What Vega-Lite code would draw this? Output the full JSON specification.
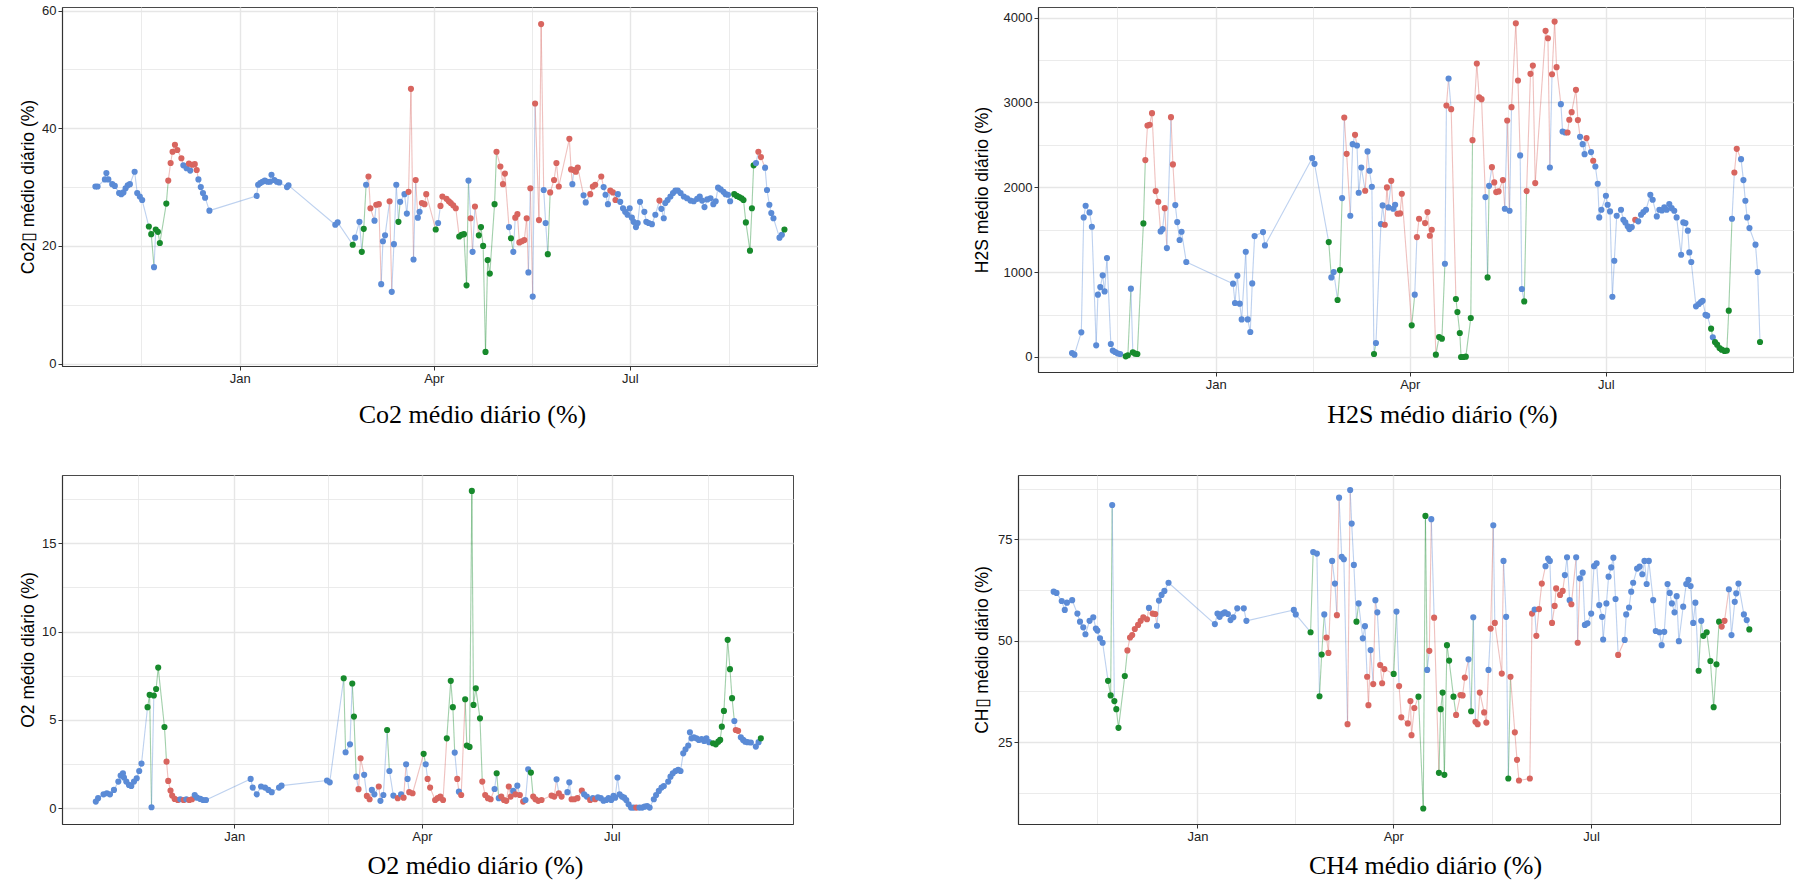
{
"$schema":"https://vega.github.io/schema/vega-lite/v6.json",
"background":"white",
"padding":{"left":18,"top":4,"right":2,"bottom":2},
"bounds":"full",
"spacing":46,
"config":{"view":{"stroke":"#4a4a4a","strokeWidth":1},"axis":{"labelFont":"Liberation Sans","labelFontSize":13,"labelColor":"#222","tickColor":"#333","tickSize":4,"domainColor":"#333","domainWidth":1.2,"gridColor":"#E6E6E6"}},
"datasets":{
"co2":[{"day":-67,"v":30.1,"g":"a"},{"day":-66,"v":30.1,"g":"a"},{"day":-62.6,"v":31.3,"g":"a"},{"day":-61.9,"v":32.4,"g":"a"},{"day":-61,"v":31.3,"g":"a"},{"day":-59.2,"v":30.5,"g":"a"},{"day":-58,"v":30.2,"g":"a"},{"day":-56,"v":29,"g":"a"},{"day":-55,"v":28.8,"g":"a"},{"day":-54,"v":29.1,"g":"a"},{"day":-53,"v":29.8,"g":"a"},{"day":-52,"v":30.3,"g":"a"},{"day":-51,"v":30.5,"g":"a"},{"day":-48.8,"v":32.6,"g":"a"},{"day":-47.6,"v":29,"g":"a"},{"day":-46.4,"v":28.4,"g":"a"},{"day":-45.3,"v":27.8,"g":"a"},{"day":-42.2,"v":23.3,"g":"c"},{"day":-41.1,"v":22,"g":"c"},{"day":-39.8,"v":16.4,"g":"a"},{"day":-39,"v":22.8,"g":"c"},{"day":-38,"v":22.4,"g":"c"},{"day":-37.1,"v":20.5,"g":"c"},{"day":-34.1,"v":27.2,"g":"c"},{"day":-33.2,"v":31.1,"g":"b"},{"day":-32.1,"v":34.1,"g":"b"},{"day":-31.2,"v":36,"g":"b"},{"day":-30.1,"v":37.2,"g":"b"},{"day":-29,"v":36.3,"g":"b"},{"day":-27.1,"v":34.9,"g":"b"},{"day":-26.2,"v":33.7,"g":"a"},{"day":-24.7,"v":33.2,"g":"a"},{"day":-23.6,"v":34,"g":"b"},{"day":-23,"v":32.8,"g":"a"},{"day":-22,"v":33.8,"g":"b"},{"day":-20.9,"v":33.9,"g":"b"},{"day":-20,"v":32.9,"g":"b"},{"day":-19.2,"v":31.3,"g":"a"},{"day":-18.1,"v":30,"g":"a"},{"day":-17.1,"v":29,"g":"a"},{"day":-16.1,"v":28.2,"g":"a"},{"day":-14.1,"v":26,"g":"a"},{"day":7.8,"v":28.5,"g":"a"},{"day":8.5,"v":30.4,"g":"a"},{"day":9.5,"v":30.7,"g":"a"},{"day":10.5,"v":30.9,"g":"a"},{"day":11.6,"v":31.1,"g":"a"},{"day":12.9,"v":30.9,"g":"a"},{"day":14,"v":30.9,"g":"a"},{"day":14.7,"v":32.1,"g":"a"},{"day":16,"v":31.2,"g":"a"},{"day":17.2,"v":30.9,"g":"a"},{"day":18.3,"v":30.8,"g":"a"},{"day":21.9,"v":30,"g":"a"},{"day":22.6,"v":30.3,"g":"a"},{"day":44.3,"v":23.6,"g":"a"},{"day":45.4,"v":24,"g":"a"},{"day":52.4,"v":20.2,"g":"c"},{"day":53.5,"v":21.4,"g":"a"},{"day":55.5,"v":24.1,"g":"a"},{"day":56.6,"v":19,"g":"c"},{"day":57.5,"v":22.9,"g":"c"},{"day":58.6,"v":30.4,"g":"a"},{"day":59.7,"v":31.8,"g":"b"},{"day":60.6,"v":26.4,"g":"b"},{"day":62.5,"v":24.3,"g":"a"},{"day":63.3,"v":27,"g":"b"},{"day":64.5,"v":27.1,"g":"b"},{"day":65.6,"v":13.5,"g":"a"},{"day":66.4,"v":20.8,"g":"a"},{"day":67.4,"v":21.8,"g":"a"},{"day":69.5,"v":27.6,"g":"b"},{"day":70.5,"v":12.2,"g":"a"},{"day":71.5,"v":20.3,"g":"a"},{"day":72.6,"v":30.4,"g":"a"},{"day":73.6,"v":24.1,"g":"c"},{"day":74.4,"v":27.5,"g":"a"},{"day":76.4,"v":28.8,"g":"a"},{"day":77.5,"v":25.5,"g":"a"},{"day":78.3,"v":29.2,"g":"b"},{"day":79.4,"v":46.7,"g":"b"},{"day":80.6,"v":17.7,"g":"a"},{"day":81.6,"v":31.2,"g":"b"},{"day":82.6,"v":24.8,"g":"a"},{"day":83.4,"v":25.8,"g":"a"},{"day":84.5,"v":27.3,"g":"b"},{"day":85.7,"v":27.1,"g":"b"},{"day":86.5,"v":28.8,"g":"b"},{"day":90.9,"v":22.8,"g":"c"},{"day":92,"v":23.9,"g":"a"},{"day":93.1,"v":26.8,"g":"b"},{"day":94,"v":28.4,"g":"b"},{"day":95.9,"v":28,"g":"b"},{"day":97,"v":27.6,"g":"b"},{"day":97.9,"v":27.3,"g":"b"},{"day":99,"v":26.9,"g":"b"},{"day":100.2,"v":26.4,"g":"b"},{"day":101.8,"v":21.6,"g":"c"},{"day":102.9,"v":21.9,"g":"c"},{"day":104,"v":22,"g":"c"},{"day":105.2,"v":13.3,"g":"c"},{"day":106.1,"v":31.1,"g":"a"},{"day":107.1,"v":24.7,"g":"b"},{"day":108,"v":19,"g":"a"},{"day":109.1,"v":26.7,"g":"b"},{"day":110.9,"v":21.8,"g":"c"},{"day":111.9,"v":23.2,"g":"c"},{"day":112.9,"v":20,"g":"c"},{"day":114,"v":2,"g":"c"},{"day":115,"v":17.6,"g":"c"},{"day":116,"v":15.3,"g":"c"},{"day":118.2,"v":27.1,"g":"c"},{"day":119.1,"v":36,"g":"b"},{"day":120.9,"v":33.5,"g":"b"},{"day":122.1,"v":30.5,"g":"b"},{"day":123,"v":32.3,"g":"b"},{"day":124.9,"v":23.2,"g":"a"},{"day":125.8,"v":21.3,"g":"c"},{"day":126.9,"v":19,"g":"a"},{"day":127.8,"v":24.8,"g":"b"},{"day":128.8,"v":25.4,"g":"b"},{"day":129.7,"v":20.6,"g":"b"},{"day":130.8,"v":20.8,"g":"b"},{"day":132,"v":21,"g":"b"},{"day":133.1,"v":24.7,"g":"b"},{"day":133.9,"v":15.5,"g":"a"},{"day":134.8,"v":29.8,"g":"b"},{"day":135.9,"v":11.4,"g":"a"},{"day":137,"v":44.2,"g":"b"},{"day":138.8,"v":24.4,"g":"b"},{"day":139.8,"v":57.7,"g":"b"},{"day":141,"v":29.5,"g":"a"},{"day":141.9,"v":23.9,"g":"a"},{"day":142.9,"v":18.6,"g":"c"},{"day":144,"v":29.1,"g":"b"},{"day":145.8,"v":31.2,"g":"b"},{"day":146.9,"v":34.1,"g":"b"},{"day":148,"v":30.1,"g":"b"},{"day":152.9,"v":38.2,"g":"b"},{"day":153.7,"v":33,"g":"b"},{"day":154.3,"v":30.5,"g":"a"},{"day":155,"v":32.9,"g":"b"},{"day":155.9,"v":32.6,"g":"b"},{"day":156.8,"v":33.3,"g":"b"},{"day":159.5,"v":28.6,"g":"a"},{"day":160.5,"v":27.4,"g":"a"},{"day":162.6,"v":28.8,"g":"b"},{"day":163.8,"v":30.1,"g":"b"},{"day":164.9,"v":30.4,"g":"b"},{"day":167.7,"v":31.8,"g":"b"},{"day":168.8,"v":30,"g":"a"},{"day":169.7,"v":28.7,"g":"a"},{"day":170.8,"v":27.1,"g":"a"},{"day":171.9,"v":29.4,"g":"b"},{"day":173.1,"v":29.1,"g":"b"},{"day":174.3,"v":27.8,"g":"b"},{"day":175.4,"v":28.8,"g":"a"},{"day":176.5,"v":27.5,"g":"a"},{"day":177.8,"v":26.4,"g":"a"},{"day":178.8,"v":25.8,"g":"a"},{"day":179.9,"v":25.3,"g":"a"},{"day":180.9,"v":26.4,"g":"a"},{"day":181.9,"v":24.8,"g":"a"},{"day":182.7,"v":24.1,"g":"a"},{"day":183.8,"v":23.2,"g":"a"},{"day":184.6,"v":23.9,"g":"a"},{"day":185.7,"v":27.5,"g":"a"},{"day":187.7,"v":25.8,"g":"a"},{"day":188.6,"v":24.1,"g":"a"},{"day":189.7,"v":23.9,"g":"a"},{"day":191.2,"v":23.7,"g":"a"},{"day":192.8,"v":25.3,"g":"a"},{"day":194.7,"v":27.7,"g":"b"},{"day":195.6,"v":26.3,"g":"a"},{"day":196.7,"v":24.7,"g":"a"},{"day":197.4,"v":27.3,"g":"a"},{"day":198.5,"v":27.8,"g":"a"},{"day":199.8,"v":28.4,"g":"a"},{"day":201,"v":29,"g":"a"},{"day":202.1,"v":29.4,"g":"a"},{"day":203.2,"v":29.4,"g":"a"},{"day":204.5,"v":29,"g":"a"},{"day":206,"v":28.4,"g":"a"},{"day":207.5,"v":28.1,"g":"a"},{"day":209.1,"v":27.7,"g":"a"},{"day":210.6,"v":27.6,"g":"a"},{"day":212.2,"v":28,"g":"a"},{"day":213.4,"v":28.4,"g":"a"},{"day":214.5,"v":27.7,"g":"a"},{"day":215.6,"v":26.6,"g":"a"},{"day":216.9,"v":27.9,"g":"a"},{"day":218.4,"v":28.1,"g":"a"},{"day":219.7,"v":27.1,"g":"a"},{"day":220.8,"v":27.6,"g":"a"},{"day":221.9,"v":29.9,"g":"a"},{"day":223.1,"v":29.6,"g":"a"},{"day":224.4,"v":29.2,"g":"a"},{"day":225.4,"v":28.8,"g":"a"},{"day":226.5,"v":28.7,"g":"a"},{"day":227.5,"v":27.6,"g":"a"},{"day":229.4,"v":28.8,"g":"c"},{"day":230.6,"v":28.5,"g":"c"},{"day":231.7,"v":28.3,"g":"c"},{"day":232.8,"v":28.1,"g":"c"},{"day":233.7,"v":27.8,"g":"c"},{"day":234.8,"v":24,"g":"c"},{"day":236.7,"v":19.2,"g":"c"},{"day":237.6,"v":26.4,"g":"c"},{"day":238.4,"v":33.7,"g":"c"},{"day":239.5,"v":34.1,"g":"a"},{"day":240.6,"v":36,"g":"b"},{"day":241.8,"v":35.1,"g":"b"},{"day":243.7,"v":33.3,"g":"a"},{"day":244.6,"v":29.5,"g":"a"},{"day":245.7,"v":27,"g":"a"},{"day":246.6,"v":25.6,"g":"a"},{"day":247.6,"v":24.7,"g":"a"},{"day":250.4,"v":21.4,"g":"a"},{"day":251.5,"v":21.9,"g":"a"},{"day":252.7,"v":22.8,"g":"c"}],
"h2s":[{"day":-66.7,"v":47,"g":"a"},{"day":-65.6,"v":27,"g":"a"},{"day":-62.4,"v":290,"g":"a"},{"day":-61.3,"v":1645,"g":"a"},{"day":-60.4,"v":1782,"g":"a"},{"day":-58.6,"v":1703,"g":"a"},{"day":-57.5,"v":1535,"g":"a"},{"day":-55.5,"v":137,"g":"a"},{"day":-54.7,"v":734,"g":"a"},{"day":-53.6,"v":824,"g":"a"},{"day":-52.5,"v":962,"g":"a"},{"day":-51.6,"v":773,"g":"a"},{"day":-50.5,"v":1166,"g":"a"},{"day":-48.7,"v":153,"g":"a"},{"day":-47.8,"v":75,"g":"a"},{"day":-46.7,"v":59,"g":"a"},{"day":-45.6,"v":43,"g":"a"},{"day":-44.4,"v":35,"g":"a"},{"day":-41.8,"v":8,"g":"c"},{"day":-40.8,"v":20,"g":"c"},{"day":-39.4,"v":805,"g":"a"},{"day":-38.5,"v":55,"g":"c"},{"day":-37.4,"v":39,"g":"c"},{"day":-36.4,"v":35,"g":"c"},{"day":-33.6,"v":1574,"g":"c"},{"day":-32.7,"v":2320,"g":"b"},{"day":-31.7,"v":2728,"g":"b"},{"day":-30.7,"v":2736,"g":"b"},{"day":-29.6,"v":2873,"g":"b"},{"day":-27.9,"v":1955,"g":"b"},{"day":-26.7,"v":1829,"g":"b"},{"day":-25.6,"v":1480,"g":"a"},{"day":-24.7,"v":1507,"g":"a"},{"day":-23.7,"v":1754,"g":"b"},{"day":-22.7,"v":1283,"g":"a"},{"day":-20.8,"v":2826,"g":"b"},{"day":-19.9,"v":2269,"g":"b"},{"day":-18.8,"v":1790,"g":"a"},{"day":-17.9,"v":1590,"g":"a"},{"day":-16.8,"v":1378,"g":"a"},{"day":-15.9,"v":1476,"g":"a"},{"day":-13.7,"v":1119,"g":"a"},{"day":8,"v":864,"g":"a"},{"day":8.9,"v":636,"g":"a"},{"day":10,"v":958,"g":"a"},{"day":11.1,"v":628,"g":"a"},{"day":12,"v":443,"g":"a"},{"day":13.9,"v":1240,"g":"a"},{"day":14.8,"v":443,"g":"a"},{"day":16,"v":294,"g":"a"},{"day":16.9,"v":867,"g":"a"},{"day":18,"v":1425,"g":"a"},{"day":21.9,"v":1472,"g":"a"},{"day":22.8,"v":1315,"g":"a"},{"day":44.7,"v":2343,"g":"a"},{"day":45.8,"v":2276,"g":"a"},{"day":52.4,"v":1354,"g":"c"},{"day":53.6,"v":938,"g":"a"},{"day":54.7,"v":1001,"g":"a"},{"day":56.5,"v":671,"g":"c"},{"day":57.6,"v":1024,"g":"c"},{"day":58.6,"v":1872,"g":"a"},{"day":59.6,"v":2822,"g":"b"},{"day":60.7,"v":2394,"g":"b"},{"day":62.4,"v":1664,"g":"a"},{"day":63.5,"v":2508,"g":"a"},{"day":64.6,"v":2618,"g":"b"},{"day":65.5,"v":2492,"g":"a"},{"day":66.3,"v":1935,"g":"a"},{"day":67.5,"v":2233,"g":"a"},{"day":69.3,"v":1959,"g":"b"},{"day":70.4,"v":2422,"g":"a"},{"day":71.3,"v":2194,"g":"a"},{"day":72.4,"v":2006,"g":"a"},{"day":73.4,"v":35,"g":"c"},{"day":74.3,"v":165,"g":"a"},{"day":76.6,"v":1566,"g":"a"},{"day":77.4,"v":1786,"g":"a"},{"day":78.4,"v":1558,"g":"b"},{"day":79.4,"v":1998,"g":"b"},{"day":80.1,"v":1762,"g":"a"},{"day":81.4,"v":2076,"g":"b"},{"day":82.3,"v":1747,"g":"a"},{"day":83.2,"v":1794,"g":"a"},{"day":84.3,"v":1688,"g":"b"},{"day":85.5,"v":1692,"g":"b"},{"day":86.3,"v":1923,"g":"b"},{"day":90.9,"v":373,"g":"c"},{"day":92.3,"v":734,"g":"a"},{"day":93.3,"v":1413,"g":"b"},{"day":94.3,"v":1629,"g":"b"},{"day":97.1,"v":1578,"g":"b"},{"day":98.2,"v":1707,"g":"b"},{"day":99.3,"v":1429,"g":"b"},{"day":100.2,"v":1499,"g":"b"},{"day":102.1,"v":27,"g":"c"},{"day":103.6,"v":235,"g":"c"},{"day":104.9,"v":216,"g":"c"},{"day":106.3,"v":1099,"g":"a"},{"day":107,"v":2963,"g":"b"},{"day":108,"v":3281,"g":"a"},{"day":109.2,"v":2920,"g":"b"},{"day":111.4,"v":683,"g":"c"},{"day":112.1,"v":530,"g":"c"},{"day":113.2,"v":283,"g":"c"},{"day":113.8,"v":0,"g":"c"},{"day":114.8,"v":0,"g":"c"},{"day":116,"v":4,"g":"c"},{"day":118.3,"v":459,"g":"c"},{"day":119.1,"v":2555,"g":"b"},{"day":121.1,"v":3458,"g":"b"},{"day":122.2,"v":3061,"g":"b"},{"day":123.3,"v":3038,"g":"b"},{"day":125.1,"v":1884,"g":"a"},{"day":126.1,"v":938,"g":"c"},{"day":126.8,"v":2017,"g":"a"},{"day":128.1,"v":2237,"g":"b"},{"day":129.2,"v":2057,"g":"b"},{"day":130.1,"v":1943,"g":"b"},{"day":131.2,"v":1951,"g":"b"},{"day":133.2,"v":2084,"g":"b"},{"day":134.1,"v":1747,"g":"a"},{"day":135.2,"v":2787,"g":"b"},{"day":136.3,"v":1723,"g":"a"},{"day":137.2,"v":2944,"g":"b"},{"day":139.2,"v":3933,"g":"b"},{"day":140.2,"v":3258,"g":"b"},{"day":141.2,"v":2375,"g":"a"},{"day":142,"v":801,"g":"a"},{"day":143.1,"v":655,"g":"c"},{"day":144.2,"v":1955,"g":"b"},{"day":146,"v":3336,"g":"b"},{"day":147.1,"v":3434,"g":"b"},{"day":148.2,"v":2049,"g":"b"},{"day":153,"v":3843,"g":"b"},{"day":154.1,"v":3756,"g":"b"},{"day":155,"v":2233,"g":"a"},{"day":156,"v":3332,"g":"b"},{"day":157.2,"v":3952,"g":"b"},{"day":158.1,"v":3415,"g":"b"},{"day":160.1,"v":2979,"g":"a"},{"day":160.9,"v":2657,"g":"a"},{"day":162.1,"v":2645,"g":"a"},{"day":163.2,"v":2645,"g":"b"},{"day":164,"v":2795,"g":"b"},{"day":165.1,"v":2885,"g":"b"},{"day":167.1,"v":3148,"g":"b"},{"day":168,"v":2791,"g":"b"},{"day":169,"v":2594,"g":"a"},{"day":170.2,"v":2508,"g":"a"},{"day":171.1,"v":2390,"g":"a"},{"day":172,"v":2579,"g":"b"},{"day":174.1,"v":2414,"g":"a"},{"day":175.1,"v":2312,"g":"b"},{"day":176.1,"v":2245,"g":"a"},{"day":177.2,"v":2041,"g":"a"},{"day":177.9,"v":1645,"g":"a"},{"day":178.9,"v":1735,"g":"a"},{"day":181,"v":1900,"g":"a"},{"day":181.8,"v":1794,"g":"a"},{"day":182.9,"v":1715,"g":"a"},{"day":184,"v":710,"g":"a"},{"day":184.9,"v":1134,"g":"a"},{"day":186,"v":1664,"g":"a"},{"day":188,"v":1735,"g":"a"},{"day":189.1,"v":1617,"g":"a"},{"day":190,"v":1586,"g":"a"},{"day":191.1,"v":1539,"g":"a"},{"day":191.9,"v":1507,"g":"a"},{"day":193,"v":1531,"g":"a"},{"day":194.6,"v":1617,"g":"b"},{"day":196,"v":1598,"g":"a"},{"day":197.3,"v":1676,"g":"a"},{"day":198.4,"v":1707,"g":"a"},{"day":199.6,"v":1735,"g":"a"},{"day":201.6,"v":1911,"g":"a"},{"day":202.7,"v":1853,"g":"a"},{"day":204.6,"v":1656,"g":"a"},{"day":205.8,"v":1735,"g":"a"},{"day":207,"v":1727,"g":"a"},{"day":208.1,"v":1762,"g":"a"},{"day":209.2,"v":1735,"g":"a"},{"day":210.4,"v":1802,"g":"a"},{"day":211.5,"v":1754,"g":"a"},{"day":212.7,"v":1723,"g":"a"},{"day":213.8,"v":1645,"g":"a"},{"day":215.9,"v":1205,"g":"a"},{"day":216.9,"v":1586,"g":"a"},{"day":217.9,"v":1578,"g":"a"},{"day":219,"v":1488,"g":"a"},{"day":219.7,"v":1232,"g":"a"},{"day":220.6,"v":1119,"g":"a"},{"day":222.8,"v":597,"g":"a"},{"day":224.1,"v":624,"g":"a"},{"day":225.1,"v":648,"g":"a"},{"day":225.9,"v":663,"g":"a"},{"day":227.2,"v":498,"g":"a"},{"day":228,"v":487,"g":"a"},{"day":229.8,"v":334,"g":"c"},{"day":230.6,"v":232,"g":"a"},{"day":231.6,"v":177,"g":"c"},{"day":232.6,"v":145,"g":"c"},{"day":233.7,"v":106,"g":"c"},{"day":234.7,"v":86,"g":"c"},{"day":236,"v":71,"g":"c"},{"day":237.1,"v":75,"g":"c"},{"day":238,"v":546,"g":"c"},{"day":239.5,"v":1629,"g":"a"},{"day":240.6,"v":2174,"g":"b"},{"day":241.7,"v":2453,"g":"b"},{"day":243.7,"v":2331,"g":"a"},{"day":244.8,"v":2084,"g":"a"},{"day":245.7,"v":1841,"g":"a"},{"day":246.5,"v":1645,"g":"a"},{"day":247.6,"v":1519,"g":"a"},{"day":250.4,"v":1323,"g":"a"},{"day":251.4,"v":1001,"g":"a"},{"day":252.5,"v":177,"g":"c"}],
"o2":[{"day":-66.3,"v":0.38,"g":"a"},{"day":-65.2,"v":0.57,"g":"a"},{"day":-62.6,"v":0.79,"g":"a"},{"day":-61,"v":0.85,"g":"a"},{"day":-59.5,"v":0.79,"g":"a"},{"day":-57.6,"v":1.04,"g":"a"},{"day":-55.5,"v":1.51,"g":"a"},{"day":-54.4,"v":1.85,"g":"a"},{"day":-53.3,"v":1.98,"g":"a"},{"day":-52.8,"v":1.74,"g":"a"},{"day":-51.7,"v":1.51,"g":"a"},{"day":-50.4,"v":1.32,"g":"a"},{"day":-49.3,"v":1.26,"g":"a"},{"day":-48,"v":1.51,"g":"a"},{"day":-46.7,"v":1.7,"g":"a"},{"day":-45.5,"v":2.11,"g":"a"},{"day":-44.4,"v":2.53,"g":"a"},{"day":-41.5,"v":5.72,"g":"c"},{"day":-40.5,"v":6.42,"g":"c"},{"day":-39.6,"v":0.06,"g":"a"},{"day":-38.5,"v":6.38,"g":"c"},{"day":-37.4,"v":6.75,"g":"c"},{"day":-36.4,"v":7.96,"g":"c"},{"day":-33.4,"v":4.6,"g":"c"},{"day":-32.4,"v":2.64,"g":"b"},{"day":-31.6,"v":1.55,"g":"b"},{"day":-30.5,"v":1,"g":"b"},{"day":-29.7,"v":0.72,"g":"b"},{"day":-28.5,"v":0.53,"g":"b"},{"day":-27,"v":0.47,"g":"b"},{"day":-25.8,"v":0.51,"g":"a"},{"day":-24.2,"v":0.47,"g":"b"},{"day":-22.9,"v":0.51,"g":"a"},{"day":-21.5,"v":0.47,"g":"b"},{"day":-20.2,"v":0.51,"g":"b"},{"day":-18.9,"v":0.75,"g":"a"},{"day":-17.8,"v":0.6,"g":"a"},{"day":-16.2,"v":0.53,"g":"a"},{"day":-14.9,"v":0.47,"g":"a"},{"day":-13.5,"v":0.47,"g":"a"},{"day":7.9,"v":1.66,"g":"a"},{"day":8.9,"v":1.17,"g":"a"},{"day":10.8,"v":0.79,"g":"a"},{"day":12.9,"v":1.23,"g":"a"},{"day":14.8,"v":1.17,"g":"a"},{"day":16.4,"v":1.04,"g":"a"},{"day":18,"v":0.91,"g":"a"},{"day":21.5,"v":1.17,"g":"a"},{"day":22.7,"v":1.28,"g":"a"},{"day":44.5,"v":1.57,"g":"a"},{"day":45.8,"v":1.47,"g":"a"},{"day":52.5,"v":7.36,"g":"c"},{"day":53.4,"v":3.17,"g":"a"},{"day":55.5,"v":3.62,"g":"a"},{"day":56.6,"v":7.06,"g":"c"},{"day":57.4,"v":5.19,"g":"c"},{"day":58.5,"v":1.79,"g":"a"},{"day":59.6,"v":1.08,"g":"b"},{"day":60.6,"v":2.83,"g":"b"},{"day":62.3,"v":1.89,"g":"a"},{"day":63.6,"v":0.7,"g":"b"},{"day":64.9,"v":0.51,"g":"b"},{"day":66,"v":1.04,"g":"a"},{"day":67.2,"v":0.79,"g":"a"},{"day":69.3,"v":1.23,"g":"b"},{"day":70.1,"v":0.42,"g":"a"},{"day":71.5,"v":0.75,"g":"a"},{"day":73.3,"v":4.43,"g":"c"},{"day":74.4,"v":2.11,"g":"a"},{"day":76.3,"v":0.72,"g":"a"},{"day":78.4,"v":0.57,"g":"b"},{"day":80,"v":0.79,"g":"a"},{"day":81.2,"v":0.6,"g":"b"},{"day":82.4,"v":2.49,"g":"a"},{"day":83.1,"v":1.66,"g":"a"},{"day":83.9,"v":0.91,"g":"b"},{"day":85.5,"v":0.85,"g":"b"},{"day":90.8,"v":3.08,"g":"c"},{"day":91.8,"v":2.49,"g":"a"},{"day":92.7,"v":1.66,"g":"b"},{"day":93.9,"v":1.17,"g":"b"},{"day":96.3,"v":0.47,"g":"b"},{"day":97.5,"v":0.57,"g":"b"},{"day":98.8,"v":0.66,"g":"b"},{"day":100.1,"v":0.47,"g":"b"},{"day":101.9,"v":3.96,"g":"c"},{"day":103.8,"v":7.21,"g":"c"},{"day":104.8,"v":5.72,"g":"c"},{"day":105.7,"v":3.15,"g":"a"},{"day":106.9,"v":1.66,"g":"b"},{"day":107.7,"v":0.94,"g":"a"},{"day":108.8,"v":0.75,"g":"b"},{"day":110.7,"v":6.17,"g":"c"},{"day":111.5,"v":3.55,"g":"c"},{"day":112.8,"v":3.47,"g":"c"},{"day":113.9,"v":17.96,"g":"c"},{"day":114.7,"v":5.85,"g":"c"},{"day":115.8,"v":6.79,"g":"c"},{"day":117.8,"v":5.09,"g":"c"},{"day":118.9,"v":1.51,"g":"b"},{"day":120.3,"v":0.75,"g":"b"},{"day":121.6,"v":0.57,"g":"b"},{"day":122.9,"v":0.51,"g":"b"},{"day":124.8,"v":1.09,"g":"a"},{"day":125.8,"v":1.98,"g":"c"},{"day":126.8,"v":0.57,"g":"a"},{"day":128,"v":0.66,"g":"b"},{"day":129.3,"v":0.47,"g":"b"},{"day":130.4,"v":0.42,"g":"b"},{"day":131.6,"v":1.23,"g":"b"},{"day":132.5,"v":0.66,"g":"b"},{"day":133.7,"v":0.98,"g":"a"},{"day":134.8,"v":0.79,"g":"b"},{"day":135.7,"v":1.28,"g":"a"},{"day":136.9,"v":0.75,"g":"b"},{"day":138.5,"v":0.38,"g":"b"},{"day":139.6,"v":0.47,"g":"a"},{"day":140.9,"v":2.21,"g":"a"},{"day":142.2,"v":2.02,"g":"c"},{"day":143.3,"v":0.66,"g":"b"},{"day":144.4,"v":0.51,"g":"b"},{"day":145.7,"v":0.42,"g":"b"},{"day":147.3,"v":0.47,"g":"b"},{"day":152.1,"v":0.72,"g":"b"},{"day":153.4,"v":0.66,"g":"b"},{"day":154.5,"v":1.64,"g":"a"},{"day":155.6,"v":0.85,"g":"b"},{"day":156.9,"v":0.66,"g":"b"},{"day":159.7,"v":0.91,"g":"a"},{"day":160.6,"v":1.47,"g":"a"},{"day":161.7,"v":0.51,"g":"b"},{"day":163,"v":0.51,"g":"b"},{"day":164.5,"v":0.57,"g":"b"},{"day":166.6,"v":1,"g":"b"},{"day":167.7,"v":0.79,"g":"a"},{"day":169,"v":0.66,"g":"a"},{"day":170.6,"v":0.47,"g":"b"},{"day":171.9,"v":0.57,"g":"a"},{"day":173,"v":0.51,"g":"b"},{"day":174.3,"v":0.62,"g":"a"},{"day":175.7,"v":0.57,"g":"a"},{"day":177,"v":0.43,"g":"a"},{"day":178.3,"v":0.47,"g":"a"},{"day":179.4,"v":0.57,"g":"a"},{"day":180.7,"v":0.47,"g":"a"},{"day":181.8,"v":0.7,"g":"a"},{"day":182.6,"v":0.6,"g":"a"},{"day":183.7,"v":1.74,"g":"a"},{"day":184.7,"v":0.79,"g":"a"},{"day":185.8,"v":0.66,"g":"a"},{"day":186.9,"v":0.6,"g":"a"},{"day":187.9,"v":0.47,"g":"a"},{"day":189,"v":0.23,"g":"a"},{"day":190.2,"v":0.04,"g":"a"},{"day":191.4,"v":0.04,"g":"a"},{"day":192.7,"v":0.04,"g":"b"},{"day":194.2,"v":0.04,"g":"a"},{"day":195.5,"v":0.04,"g":"a"},{"day":196.7,"v":0.09,"g":"a"},{"day":197.9,"v":0.13,"g":"a"},{"day":199.1,"v":0.04,"g":"a"},{"day":201.1,"v":0.51,"g":"a"},{"day":202.2,"v":0.75,"g":"a"},{"day":203.5,"v":0.98,"g":"a"},{"day":204.8,"v":1.17,"g":"a"},{"day":205.9,"v":1.26,"g":"a"},{"day":208,"v":1.51,"g":"a"},{"day":209.1,"v":1.79,"g":"a"},{"day":210.2,"v":1.98,"g":"a"},{"day":211.5,"v":2.11,"g":"a"},{"day":212.8,"v":2.17,"g":"a"},{"day":213.9,"v":2.11,"g":"a"},{"day":215.2,"v":3.11,"g":"a"},{"day":216.3,"v":3.34,"g":"a"},{"day":217.6,"v":3.55,"g":"a"},{"day":218.4,"v":4.3,"g":"a"},{"day":219.2,"v":3.96,"g":"a"},{"day":220.3,"v":4.02,"g":"a"},{"day":221.5,"v":3.96,"g":"a"},{"day":222.7,"v":3.87,"g":"a"},{"day":224,"v":3.92,"g":"a"},{"day":225.2,"v":3.81,"g":"a"},{"day":226.3,"v":3.96,"g":"a"},{"day":227.6,"v":3.74,"g":"a"},{"day":229.5,"v":3.68,"g":"c"},{"day":230.8,"v":3.62,"g":"c"},{"day":232,"v":3.77,"g":"c"},{"day":232.9,"v":3.87,"g":"c"},{"day":233.7,"v":4.62,"g":"c"},{"day":234.7,"v":5.51,"g":"c"},{"day":236.5,"v":9.53,"g":"c"},{"day":237.6,"v":7.87,"g":"c"},{"day":238.6,"v":6.23,"g":"c"},{"day":239.7,"v":4.94,"g":"a"},{"day":240.4,"v":4.43,"g":"b"},{"day":241.5,"v":4.38,"g":"b"},{"day":242.8,"v":4.02,"g":"a"},{"day":243.9,"v":3.87,"g":"a"},{"day":244.9,"v":3.77,"g":"a"},{"day":246,"v":3.74,"g":"a"},{"day":247.6,"v":3.72,"g":"a"},{"day":250,"v":3.49,"g":"a"},{"day":251.3,"v":3.74,"g":"a"},{"day":252.4,"v":3.96,"g":"c"}],
"ch4":[{"day":-66.1,"v":62.1,"g":"a"},{"day":-64.8,"v":61.8,"g":"a"},{"day":-62.4,"v":59.8,"g":"a"},{"day":-61,"v":57.6,"g":"a"},{"day":-60,"v":59.4,"g":"a"},{"day":-57.6,"v":60,"g":"a"},{"day":-55.2,"v":56.7,"g":"a"},{"day":-54,"v":54.7,"g":"a"},{"day":-52.5,"v":53.3,"g":"a"},{"day":-51.5,"v":51.6,"g":"a"},{"day":-49.6,"v":54.9,"g":"a"},{"day":-47.9,"v":55.8,"g":"a"},{"day":-46.7,"v":53,"g":"a"},{"day":-46,"v":52.5,"g":"a"},{"day":-44.8,"v":50.6,"g":"a"},{"day":-43.6,"v":49.5,"g":"a"},{"day":-41.1,"v":40.1,"g":"c"},{"day":-39.9,"v":36.5,"g":"c"},{"day":-39.2,"v":83.5,"g":"a"},{"day":-38.2,"v":35.1,"g":"c"},{"day":-37.3,"v":33.1,"g":"c"},{"day":-36.3,"v":28.5,"g":"c"},{"day":-33.4,"v":41.3,"g":"c"},{"day":-32.2,"v":47.6,"g":"b"},{"day":-31,"v":50.8,"g":"b"},{"day":-30,"v":51.4,"g":"b"},{"day":-28.8,"v":52.9,"g":"b"},{"day":-27.3,"v":53.9,"g":"b"},{"day":-26.1,"v":54.9,"g":"b"},{"day":-24.9,"v":55.8,"g":"b"},{"day":-23.2,"v":55.3,"g":"b"},{"day":-22.3,"v":58.1,"g":"a"},{"day":-20.6,"v":56.7,"g":"b"},{"day":-19.4,"v":56.6,"g":"b"},{"day":-18.6,"v":53.7,"g":"a"},{"day":-17.7,"v":59.9,"g":"a"},{"day":-16.5,"v":61.3,"g":"a"},{"day":-15.2,"v":62.3,"g":"a"},{"day":-13.3,"v":64.3,"g":"a"},{"day":8,"v":54.1,"g":"a"},{"day":9.2,"v":56.7,"g":"a"},{"day":10.2,"v":55.9,"g":"a"},{"day":11.6,"v":56.7,"g":"a"},{"day":12.6,"v":57,"g":"a"},{"day":14,"v":56.6,"g":"a"},{"day":15.2,"v":55.1,"g":"a"},{"day":16.5,"v":55.8,"g":"a"},{"day":18.3,"v":58,"g":"a"},{"day":21.3,"v":58,"g":"a"},{"day":22.5,"v":54.9,"g":"a"},{"day":44.3,"v":57.6,"g":"a"},{"day":45.2,"v":56.5,"g":"a"},{"day":52,"v":52.1,"g":"c"},{"day":53.2,"v":71.9,"g":"a"},{"day":54.9,"v":71.5,"g":"a"},{"day":56.1,"v":36.3,"g":"c"},{"day":57.1,"v":46.6,"g":"c"},{"day":58.3,"v":56.5,"g":"a"},{"day":59.3,"v":50.8,"g":"b"},{"day":60.2,"v":47,"g":"b"},{"day":61.9,"v":69.7,"g":"a"},{"day":63.2,"v":64.1,"g":"a"},{"day":64.1,"v":56.3,"g":"b"},{"day":65.1,"v":85.3,"g":"a"},{"day":66.3,"v":70.7,"g":"a"},{"day":67.3,"v":70.1,"g":"a"},{"day":69,"v":29.4,"g":"b"},{"day":70.2,"v":87.2,"g":"a"},{"day":70.9,"v":78.9,"g":"a"},{"day":71.9,"v":68.7,"g":"a"},{"day":73.1,"v":54.7,"g":"c"},{"day":74.1,"v":59.2,"g":"a"},{"day":76,"v":50.6,"g":"a"},{"day":77,"v":53.6,"g":"a"},{"day":78,"v":41.1,"g":"b"},{"day":78.6,"v":34.1,"g":"b"},{"day":79.6,"v":47.7,"g":"a"},{"day":80.8,"v":39.3,"g":"b"},{"day":81.8,"v":60,"g":"a"},{"day":82.7,"v":57,"g":"a"},{"day":84,"v":44,"g":"b"},{"day":84.9,"v":39.5,"g":"b"},{"day":85.9,"v":43,"g":"b"},{"day":90.2,"v":41.8,"g":"c"},{"day":91.5,"v":57.2,"g":"a"},{"day":92.7,"v":38.8,"g":"b"},{"day":93.7,"v":31.1,"g":"b"},{"day":96.7,"v":29.6,"g":"b"},{"day":97.9,"v":35.1,"g":"b"},{"day":98.4,"v":26.7,"g":"b"},{"day":99.7,"v":33.4,"g":"b"},{"day":101.6,"v":36.2,"g":"c"},{"day":103.8,"v":8.6,"g":"c"},{"day":104.8,"v":80.8,"g":"c"},{"day":105.6,"v":42.8,"g":"a"},{"day":106.6,"v":47.5,"g":"b"},{"day":107.5,"v":80,"g":"a"},{"day":108.8,"v":55.7,"g":"b"},{"day":111,"v":17.4,"g":"c"},{"day":111.8,"v":33.1,"g":"c"},{"day":112.7,"v":37.2,"g":"c"},{"day":113.5,"v":16.9,"g":"c"},{"day":114.7,"v":48.9,"g":"c"},{"day":115.7,"v":45.1,"g":"c"},{"day":117.7,"v":36.2,"g":"c"},{"day":118.9,"v":31.7,"g":"b"},{"day":120.9,"v":36.6,"g":"b"},{"day":121.9,"v":36.5,"g":"b"},{"day":122.9,"v":40.9,"g":"b"},{"day":124.6,"v":45.4,"g":"a"},{"day":125.8,"v":32.6,"g":"c"},{"day":126.8,"v":55.8,"g":"a"},{"day":127.8,"v":30,"g":"b"},{"day":128.8,"v":29.4,"g":"b"},{"day":129.8,"v":37.2,"g":"b"},{"day":131.8,"v":32.3,"g":"b"},{"day":132.8,"v":29.8,"g":"b"},{"day":133.8,"v":42.8,"g":"a"},{"day":134.8,"v":53,"g":"b"},{"day":136,"v":78.5,"g":"a"},{"day":136.7,"v":54.4,"g":"b"},{"day":139.9,"v":41.9,"g":"b"},{"day":140.7,"v":69.7,"g":"a"},{"day":141.9,"v":55.9,"g":"a"},{"day":142.9,"v":16,"g":"c"},{"day":143.9,"v":41.1,"g":"b"},{"day":145.9,"v":27.4,"g":"b"},{"day":146.9,"v":20.6,"g":"b"},{"day":147.8,"v":15.5,"g":"b"},{"day":152.8,"v":16,"g":"b"},{"day":153.8,"v":56.7,"g":"b"},{"day":155,"v":57.7,"g":"a"},{"day":155.8,"v":51.2,"g":"b"},{"day":157,"v":57.8,"g":"b"},{"day":158.3,"v":64.1,"g":"b"},{"day":160,"v":68.4,"g":"a"},{"day":161.2,"v":70.3,"g":"a"},{"day":162,"v":69.7,"g":"a"},{"day":163,"v":54.4,"g":"b"},{"day":164.2,"v":58.6,"g":"b"},{"day":164.9,"v":62.9,"g":"b"},{"day":166.7,"v":61.3,"g":"b"},{"day":167.9,"v":62.3,"g":"b"},{"day":168.9,"v":66.2,"g":"a"},{"day":169.9,"v":70.6,"g":"a"},{"day":171.1,"v":60,"g":"a"},{"day":171.9,"v":59,"g":"b"},{"day":174.1,"v":70.6,"g":"a"},{"day":174.8,"v":49.5,"g":"b"},{"day":175.8,"v":65.4,"g":"a"},{"day":177.1,"v":66.8,"g":"a"},{"day":178.1,"v":53.9,"g":"a"},{"day":179.3,"v":54.3,"g":"a"},{"day":181,"v":56.7,"g":"a"},{"day":182.3,"v":68.4,"g":"a"},{"day":183.5,"v":69.1,"g":"a"},{"day":184.7,"v":58.8,"g":"a"},{"day":186,"v":55.9,"g":"a"},{"day":186.5,"v":50.3,"g":"a"},{"day":188,"v":59.2,"g":"a"},{"day":189,"v":65.8,"g":"a"},{"day":190.2,"v":68.1,"g":"a"},{"day":191.2,"v":70.5,"g":"a"},{"day":192.2,"v":60.3,"g":"a"},{"day":193.4,"v":46.5,"g":"b"},{"day":196.4,"v":50.2,"g":"a"},{"day":197.1,"v":56.5,"g":"a"},{"day":198.4,"v":58.2,"g":"a"},{"day":199.4,"v":62.1,"g":"a"},{"day":200.3,"v":64.3,"g":"a"},{"day":202.1,"v":67.8,"g":"a"},{"day":203.3,"v":68.3,"g":"a"},{"day":204.5,"v":66.4,"g":"a"},{"day":205.5,"v":69.7,"g":"a"},{"day":206.5,"v":64,"g":"a"},{"day":207.5,"v":69.7,"g":"a"},{"day":209.5,"v":60,"g":"a"},{"day":210.7,"v":52.4,"g":"a"},{"day":212.4,"v":52.1,"g":"a"},{"day":213.4,"v":48.9,"g":"a"},{"day":214.6,"v":52.2,"g":"a"},{"day":216.1,"v":64,"g":"a"},{"day":217.1,"v":61.8,"g":"a"},{"day":218.1,"v":59.2,"g":"a"},{"day":219.3,"v":57,"g":"a"},{"day":220.3,"v":61,"g":"a"},{"day":221.3,"v":49.9,"g":"a"},{"day":223.3,"v":58.4,"g":"a"},{"day":224.7,"v":64,"g":"a"},{"day":225.7,"v":65,"g":"a"},{"day":226.7,"v":63.5,"g":"a"},{"day":227.9,"v":54.4,"g":"a"},{"day":228.9,"v":59.4,"g":"a"},{"day":230.4,"v":42.6,"g":"c"},{"day":231.6,"v":54.9,"g":"a"},{"day":232.6,"v":51.2,"g":"c"},{"day":234.1,"v":52.1,"g":"c"},{"day":235.8,"v":45,"g":"c"},{"day":237.3,"v":33.6,"g":"c"},{"day":238.6,"v":44.2,"g":"c"},{"day":239.8,"v":54.7,"g":"c"},{"day":241,"v":53.5,"g":"b"},{"day":242.3,"v":54.9,"g":"b"},{"day":244.3,"v":62.7,"g":"a"},{"day":245.5,"v":51.4,"g":"a"},{"day":247,"v":59.6,"g":"a"},{"day":247.7,"v":61.7,"g":"a"},{"day":248.7,"v":64.1,"g":"a"},{"day":251.2,"v":56.5,"g":"a"},{"day":252.5,"v":55.1,"g":"a"},{"day":253.7,"v":52.8,"g":"c"}]
},
"vconcat":[
{"hconcat":[
{"width":755,"height":359,"data":{"name":"co2"},
"transform":[{"window":[{"op":"lead","field":"day","as":"day2"},{"op":"lead","field":"v","as":"v2"}],"sort":[{"field":"day","order":"ascending"}]}],
"encoding":{
"x":{"field":"day","type":"quantitative","scale":{"domain":[-82.5,267.8],"nice":false,"zero":false},"axis":{"values":[-46,0,45,90,135.5,181,227],"labelExpr":"datum.value==0?'Jan':datum.value==90?'Apr':datum.value==181?'Jul':''","tickOpacity":{"condition":{"test":"datum.value==0||datum.value==90||datum.value==181","value":1},"value":0},"gridWidth":{"condition":{"test":"datum.value==0||datum.value==90||datum.value==181","value":1.4},"value":0.8},"title":"Co2 médio diário (%)","titleFont":"Liberation Serif","titleFontSize":26,"titleFontWeight":"normal","titleColor":"#000","titleX":410,"titleY":56,"titleBaseline":"alphabetic"}},
"y":{"field":"v","type":"quantitative","scale":{"domain":[-0.4,60.6],"nice":false,"zero":false},"axis":{"values":[0,10,20,30,40,50,60],"labelExpr":"datum.value%20==0?datum.label:''","tickOpacity":{"condition":{"test":"datum.value%20==0","value":1},"value":0},"gridWidth":{"condition":{"test":"datum.value%20==0","value":1.4},"value":0.8},"title":"Co2▯ médio diário (%)","titleFont":"Liberation Sans","titleFontSize":17.5,"titleFontWeight":"normal","titleColor":"#000","titleX":-34,"titleBaseline":"middle"}},
"color":{"field":"g","type":"nominal","scale":{"domain":["a","b","c"],"range":["#5B8BD6","#D8655F","#178A2C"]},"legend":null}},
"layer":[
{"transform":[{"filter":"isValid(datum.day2)"}],"mark":{"type":"rule","strokeWidth":1.1,"opacity":0.4},"encoding":{"x2":{"field":"day2"},"y2":{"field":"v2"}}},
{"mark":{"type":"circle","size":38,"opacity":1}}]},
{"width":755,"height":365,"data":{"name":"h2s"},
"transform":[{"window":[{"op":"lead","field":"day","as":"day2"},{"op":"lead","field":"v","as":"v2"}],"sort":[{"field":"day","order":"ascending"}]}],
"encoding":{
"x":{"field":"day","type":"quantitative","scale":{"domain":[-82.5,267.8],"nice":false,"zero":false},"axis":{"values":[-46,0,45,90,135.5,181,227],"labelExpr":"datum.value==0?'Jan':datum.value==90?'Apr':datum.value==181?'Jul':''","tickOpacity":{"condition":{"test":"datum.value==0||datum.value==90||datum.value==181","value":1},"value":0},"gridWidth":{"condition":{"test":"datum.value==0||datum.value==90||datum.value==181","value":1.4},"value":0.8},"title":"H2S médio diário (%)","titleFont":"Liberation Serif","titleFontSize":26,"titleFontWeight":"normal","titleColor":"#000","titleX":404,"titleY":50,"titleBaseline":"alphabetic"}},
"y":{"field":"v","type":"quantitative","scale":{"domain":[-177,4124],"nice":false,"zero":false},"axis":{"values":[0,500,1000,1500,2000,2500,3000,3500,4000],"format":"d","labelExpr":"datum.value%1000==0?datum.label:''","tickOpacity":{"condition":{"test":"datum.value%1000==0","value":1},"value":0},"gridWidth":{"condition":{"test":"datum.value%1000==0","value":1.4},"value":0.8},"title":"H2S médio diário (%)","titleFont":"Liberation Sans","titleFontSize":17.5,"titleFontWeight":"normal","titleColor":"#000","titleX":-56,"titleBaseline":"middle"}},
"color":{"field":"g","type":"nominal","scale":{"domain":["a","b","c"],"range":["#5B8BD6","#D8655F","#178A2C"]},"legend":null}},
"layer":[
{"transform":[{"filter":"isValid(datum.day2)"}],"mark":{"type":"rule","strokeWidth":1.1,"opacity":0.4},"encoding":{"x2":{"field":"day2"},"y2":{"field":"v2"}}},
{"mark":{"type":"circle","size":38,"opacity":1}}]}
],"spacing":221,"bounds":"flush"},
{"hconcat":[
{"width":731,"height":349,"data":{"name":"o2"},
"transform":[{"window":[{"op":"lead","field":"day","as":"day2"},{"op":"lead","field":"v","as":"v2"}],"sort":[{"field":"day","order":"ascending"}]}],
"encoding":{
"x":{"field":"day","type":"quantitative","scale":{"domain":[-82.5,267.8],"nice":false,"zero":false},"axis":{"values":[-46,0,45,90,135.5,181,227],"labelExpr":"datum.value==0?'Jan':datum.value==90?'Apr':datum.value==181?'Jul':''","tickOpacity":{"condition":{"test":"datum.value==0||datum.value==90||datum.value==181","value":1},"value":0},"gridWidth":{"condition":{"test":"datum.value==0||datum.value==90||datum.value==181","value":1.4},"value":0.8},"title":"O2 médio diário (%)","titleFont":"Liberation Serif","titleFontSize":26,"titleFontWeight":"normal","titleColor":"#000","titleX":413,"titleY":49,"titleBaseline":"alphabetic"}},
"y":{"field":"v","type":"quantitative","scale":{"domain":[-0.89,18.86],"nice":false,"zero":false},"axis":{"values":[0,2.5,5,7.5,10,12.5,15,17.5],"labelExpr":"datum.value%5==0?datum.label:''","tickOpacity":{"condition":{"test":"datum.value%5==0","value":1},"value":0},"gridWidth":{"condition":{"test":"datum.value%5==0","value":1.4},"value":0.8},"title":"O2 médio diário (%)","titleFont":"Liberation Sans","titleFontSize":17.5,"titleFontWeight":"normal","titleColor":"#000","titleX":-34,"titleBaseline":"middle"}},
"color":{"field":"g","type":"nominal","scale":{"domain":["a","b","c"],"range":["#5B8BD6","#D8655F","#178A2C"]},"legend":null}},
"layer":[
{"transform":[{"filter":"isValid(datum.day2)"}],"mark":{"type":"rule","strokeWidth":1.1,"opacity":0.4},"encoding":{"x2":{"field":"day2"},"y2":{"field":"v2"}}},
{"mark":{"type":"circle","size":38,"opacity":1}}]},
{"width":762,"height":349,"data":{"name":"ch4"},
"transform":[{"window":[{"op":"lead","field":"day","as":"day2"},{"op":"lead","field":"v","as":"v2"}],"sort":[{"field":"day","order":"ascending"}]}],
"encoding":{
"x":{"field":"day","type":"quantitative","scale":{"domain":[-82.5,267.8],"nice":false,"zero":false},"axis":{"values":[-46,0,45,90,135.5,181,227],"labelExpr":"datum.value==0?'Jan':datum.value==90?'Apr':datum.value==181?'Jul':''","tickOpacity":{"condition":{"test":"datum.value==0||datum.value==90||datum.value==181","value":1},"value":0},"gridWidth":{"condition":{"test":"datum.value==0||datum.value==90||datum.value==181","value":1.4},"value":0.8},"title":"CH4 médio diário (%)","titleFont":"Liberation Serif","titleFontSize":26,"titleFontWeight":"normal","titleColor":"#000","titleX":407,"titleY":49,"titleBaseline":"alphabetic"}},
"y":{"field":"v","type":"quantitative","scale":{"domain":[4.77,90.9],"nice":false,"zero":false},"axis":{"values":[12.5,25,37.5,50,62.5,75,87.5],"labelExpr":"datum.value%25==0?datum.label:''","tickOpacity":{"condition":{"test":"datum.value%25==0","value":1},"value":0},"gridWidth":{"condition":{"test":"datum.value%25==0","value":1.4},"value":0.8},"title":"CH▯ médio diário (%)","titleFont":"Liberation Sans","titleFontSize":17.5,"titleFontWeight":"normal","titleColor":"#000","titleX":-36,"titleBaseline":"middle"}},
"color":{"field":"g","type":"nominal","scale":{"domain":["a","b","c"],"range":["#5B8BD6","#D8655F","#178A2C"]},"legend":null}},
"layer":[
{"transform":[{"filter":"isValid(datum.day2)"}],"mark":{"type":"rule","strokeWidth":1.1,"opacity":0.4},"encoding":{"x2":{"field":"day2"},"y2":{"field":"v2"}}},
{"mark":{"type":"circle","size":38,"opacity":1}}]}
],"spacing":225,"bounds":"flush"}
]
}
